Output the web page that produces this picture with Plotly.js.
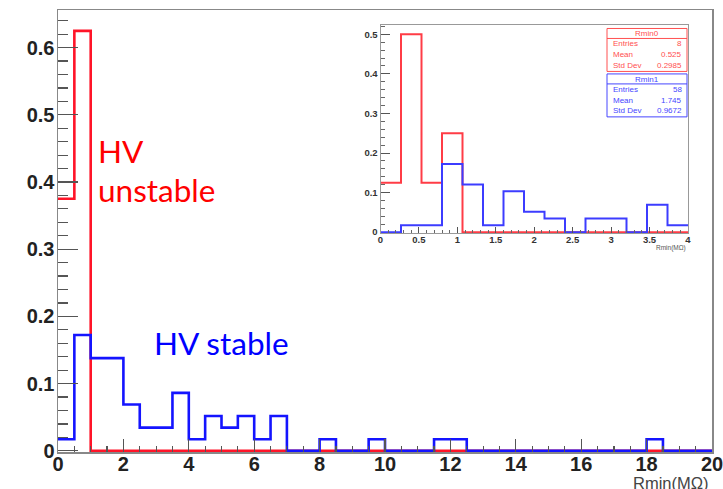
<!DOCTYPE html>
<html>
<head>
<meta charset="utf-8">
<script src="https://cdn.plot.ly/plotly-3.0.1.min.js"></script>
<style>
html,body{margin:0;padding:0;background:#fff;}
#chart{width:723px;height:489px;}
</style>
</head>
<body>
<div id="chart"></div>
<script>
// ---------------- DATA ----------------
// Main histogram: 40 bins of 0.5 MOhm from 0 to 20 (normalised)
const mainRange = [0, 20];
const mainBinWidth = 0.5;
const unstableMain = [0.375, 0.625, 0, 0, 0, 0, 0, 0, 0, 0,
                      0, 0, 0, 0, 0, 0, 0, 0, 0, 0,
                      0, 0, 0, 0, 0, 0, 0, 0, 0, 0,
                      0, 0, 0, 0, 0, 0, 0, 0, 0, 0];
const stableMain = [0.0172, 0.1724, 0.1379, 0.1379, 0.0690, 0.0345, 0.0345, 0.0862, 0.0172, 0.0517,
                    0.0345, 0.0517, 0.0172, 0.0517, 0, 0, 0.0172, 0, 0, 0.0172,
                    0, 0, 0, 0.0172, 0.0172, 0, 0, 0, 0, 0,
                    0, 0, 0, 0, 0, 0, 0.0172, 0, 0, 0];
// Inset histogram: 15 bins from 0 to 4
const insetRange = [0, 4];
const insetBins = 15;
const unstableInset = [0.125, 0.5, 0.125, 0.25, 0, 0, 0, 0, 0, 0, 0, 0, 0, 0, 0];
const stableInset = [0, 0.0172, 0.0172, 0.1724, 0.1207, 0.0172, 0.1034, 0.0517, 0.0345, 0,
                     0.0345, 0.0345, 0, 0.0690, 0.0172];
// Stats boxes
const statNames = ["Rmin0", "Rmin1"];
const statLabels = ["Entries", "Mean", "Std Dev"];
const statValues0 = ["8", "0.525", "0.2985"];
const statValues1 = ["58", "1.745", "0.9672"];
const labelUnstable = ["HV", "unstable"];
const labelStable = "HV stable";
const xTitle = "Rmin(MΩ)";

// ---------------- helpers ----------------
function stepTrace(vals, x0, w, color, width, xa, ya) {
  const xs = [], ys = [];
  for (let i = 0; i < vals.length; i++) { xs.push(x0 + i * w); ys.push(vals[i]); }
  xs.push(x0 + vals.length * w); ys.push(vals[vals.length - 1]);
  return {type: 'scatter', mode: 'lines', x: xs, y: ys, xaxis: xa, yaxis: ya,
          line: {shape: 'hv', color: color, width: width}, hoverinfo: 'skip', showlegend: false};
}
// plot area in pixels
const L = 58, R = 712, T = 9.5, B = 452;
const px = x => (x - L) / (R - L);
const py = y => (B - y) / (B - T);

const RED = 'rgb(255,20,40)';
const BLUE = 'rgb(20,20,255)';

const traces = [
  stepTrace(unstableMain, mainRange[0], mainBinWidth, RED, 2.6, 'x', 'y'),
  stepTrace(stableMain, mainRange[0], mainBinWidth, BLUE, 2.6, 'x', 'y'),
  stepTrace(unstableInset, insetRange[0], (insetRange[1] - insetRange[0]) / insetBins, 'rgb(255,60,70)', 2, 'x2', 'y2'),
  stepTrace(stableInset, insetRange[0], (insetRange[1] - insetRange[0]) / insetBins, 'rgb(60,60,255)', 2, 'x2', 'y2')
];

const tickFontMain = {family: 'Liberation Sans, Arial, sans-serif', size: 20, color: '#222', weight: 'bold'};
const tickFontInset = {family: 'Liberation Sans, Arial, sans-serif', size: 9.5, color: '#333', weight: 'bold'};

const annotations = [];
const shapes = [];
const bigFont = c => ({family: 'Lato, Noto Sans, sans-serif', size: 31.5, color: c});
// HV text labels
annotations.push({xref: 'paper', yref: 'paper', x: px(96), y: py(151), xanchor: 'left', yanchor: 'middle',
  text: labelUnstable[0], showarrow: false, font: bigFont('red')});
annotations.push({xref: 'paper', yref: 'paper', x: px(96), y: py(189.5), xanchor: 'left', yanchor: 'middle',
  text: labelUnstable[1], showarrow: false, font: bigFont('red')});
annotations.push({xref: 'paper', yref: 'paper', x: px(152), y: py(343), xanchor: 'left', yanchor: 'middle',
  text: labelStable, showarrow: false, font: bigFont('blue')});
// axis titles
annotations.push({xref: 'paper', yref: 'paper', x: px(711), y: py(483), xanchor: 'right', yanchor: 'middle',
  text: xTitle, showarrow: false, font: {family: 'Liberation Sans, Arial, sans-serif', size: 16.5, color: '#444'}});
annotations.push({xref: 'paper', yref: 'paper', x: px(688), y: py(247.5), xanchor: 'right', yanchor: 'middle',
  text: xTitle, showarrow: false, font: {family: 'Liberation Sans, Arial, sans-serif', size: 6.5, color: '#555'}});

// stats boxes
function statBox(name, values, color, top) {
  const bot = top + 43, sep = top + 10;
  shapes.push({type: 'rect', xref: 'paper', yref: 'paper', x0: px(607), x1: px(687), y0: py(top), y1: py(bot),
    line: {color: color, width: 1}, fillcolor: 'rgba(255,255,255,0)'});
  shapes.push({type: 'line', xref: 'paper', yref: 'paper', x0: px(607), x1: px(687), y0: py(sep), y1: py(sep),
    line: {color: color, width: 1}});
  const f = {family: 'Liberation Sans, Arial, sans-serif', size: 8, color: color};
  annotations.push({xref: 'paper', yref: 'paper', x: px(647), y: py(top + 5.3), xanchor: 'center', yanchor: 'middle',
    text: name, showarrow: false, font: f});
  for (let i = 0; i < statLabels.length; i++) {
    const yy = top + 15.5 + i * 10.7;
    annotations.push({xref: 'paper', yref: 'paper', x: px(611), y: py(yy), xanchor: 'left', yanchor: 'middle',
      text: statLabels[i], showarrow: false, font: f});
    annotations.push({xref: 'paper', yref: 'paper', x: px(684), y: py(yy), xanchor: 'right', yanchor: 'middle',
      text: values[i], showarrow: false, font: f});
  }
}
statBox(statNames[0], statValues0, 'rgb(255,80,80)', 28);
statBox(statNames[1], statValues1, 'rgb(70,70,255)', 73.5);

const layout = {
  width: 723, height: 489,
  margin: {l: L, r: 723 - R, t: T, b: 489 - B, pad: 0},
  paper_bgcolor: '#fff', plot_bgcolor: '#fff',
  showlegend: false,
  xaxis: {range: mainRange, dtick: 2, tick0: 0, ticks: 'inside', ticklen: 13, tickwidth: 1.3, tickcolor: '#555',
    showline: true, linecolor: '#888', linewidth: 1.5, mirror: true, showgrid: false, zeroline: false,
    ticklabelstandoff: -7, ticklabeloverflow: 'allow',
    tickfont: tickFontMain, minor: {dtick: 0.5, ticks: 'inside', ticklen: 6.5, tickcolor: '#555', tickwidth: 1.2, showgrid: false}},
  yaxis: {range: [-0.0018, 0.656], dtick: 0.1, tick0: 0, ticks: 'inside', ticklen: 20, tickwidth: 1.3, tickcolor: '#555',
    showline: true, linecolor: '#888', linewidth: 1.5, mirror: true, showgrid: false, zeroline: false,
    ticklabelstandoff: -2,
    tickfont: tickFontMain, minor: {dtick: 0.02, ticks: 'inside', ticklen: 10, tickcolor: '#555', tickwidth: 1.2, showgrid: false}},
  xaxis2: {domain: [px(380.5), px(688)], anchor: 'y2', range: insetRange, dtick: 0.5, tick0: 0,
    ticks: 'inside', ticklen: 6, tickwidth: 1, tickcolor: '#555',
    showline: true, linecolor: '#999', linewidth: 1, mirror: true, showgrid: false, zeroline: false,
    ticklabelstandoff: -2, ticklabeloverflow: 'allow',
    tickfont: tickFontInset, minor: {dtick: 0.1, ticks: 'inside', ticklen: 3, tickcolor: '#666', showgrid: false}},
  yaxis2: {domain: [py(232.7), py(24.3)], anchor: 'x2', range: [-0.002, 0.524], dtick: 0.1, tick0: 0,
    ticks: 'inside', ticklen: 9, tickwidth: 1, tickcolor: '#555',
    showline: true, linecolor: '#999', linewidth: 1, mirror: true, showgrid: false, zeroline: false,
    tickfont: tickFontInset, minor: {dtick: 0.02, ticks: 'inside', ticklen: 4.5, tickcolor: '#666', showgrid: false}},
  annotations: annotations,
  shapes: shapes
};

Plotly.newPlot('chart', traces, layout, {staticPlot: true, displayModeBar: false});
</script>
</body>
</html>
